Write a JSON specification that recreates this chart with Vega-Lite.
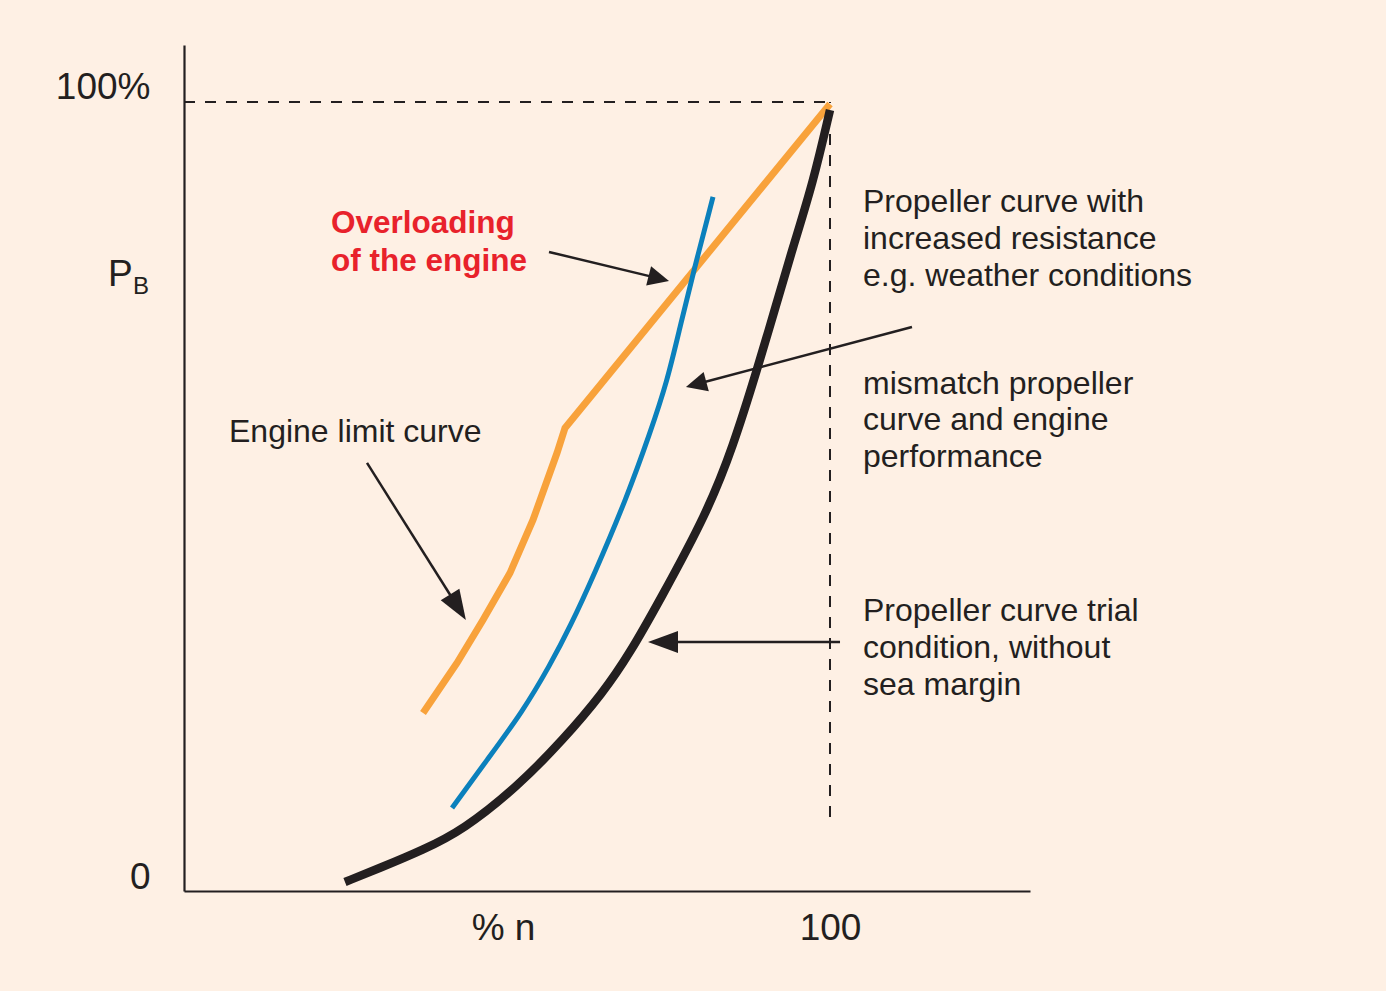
{
  "$schema": "https://vega.github.io/schema/vega-lite/v6.json",
  "width": 846,
  "height": 846,
  "autosize": {"type": "none"},
  "padding": {"left": 184, "top": 45, "right": 356, "bottom": 100},
  "background": "#FEF0E4",
  "config": {"view": {"stroke": null}, "font": "Liberation Sans"},
  "datasets": {
    "curves": [
      {"series": "limit", "x": 37.00, "y": 22.56},
      {"series": "limit", "x": 42.26, "y": 28.90},
      {"series": "limit", "x": 46.28, "y": 34.35},
      {"series": "limit", "x": 50.46, "y": 40.30},
      {"series": "limit", "x": 54.02, "y": 47.02},
      {"series": "limit", "x": 57.74, "y": 55.51},
      {"series": "limit", "x": 58.98, "y": 58.68},
      {"series": "limit", "x": 100.0, "y": 99.75},
      {"series": "heavy", "x": 41.49, "y": 10.52},
      {"series": "heavy", "x": 46.90, "y": 16.60},
      {"series": "heavy", "x": 52.48, "y": 22.81},
      {"series": "heavy", "x": 56.66, "y": 28.64},
      {"series": "heavy", "x": 59.75, "y": 33.46},
      {"series": "heavy", "x": 63.47, "y": 40.05},
      {"series": "heavy", "x": 68.58, "y": 49.94},
      {"series": "heavy", "x": 72.14, "y": 58.05},
      {"series": "heavy", "x": 74.77, "y": 64.51},
      {"series": "heavy", "x": 76.78, "y": 71.48},
      {"series": "heavy", "x": 78.79, "y": 78.21},
      {"series": "heavy", "x": 81.89, "y": 87.96},
      {"series": "trial", "x": 24.92, "y": 1.14},
      {"series": "trial", "x": 30.34, "y": 2.92},
      {"series": "trial", "x": 37.00, "y": 5.20},
      {"series": "trial", "x": 43.19, "y": 7.73},
      {"series": "trial", "x": 51.55, "y": 13.18},
      {"series": "trial", "x": 58.67, "y": 19.14},
      {"series": "trial", "x": 64.86, "y": 25.10},
      {"series": "trial", "x": 69.04, "y": 30.16},
      {"series": "trial", "x": 73.68, "y": 36.88},
      {"series": "trial", "x": 80.96, "y": 47.91},
      {"series": "trial", "x": 84.98, "y": 56.27},
      {"series": "trial", "x": 88.70, "y": 66.03},
      {"series": "trial", "x": 91.30, "y": 73.26},
      {"series": "trial", "x": 94.27, "y": 81.62},
      {"series": "trial", "x": 97.37, "y": 89.73},
      {"series": "trial", "x": 100.0, "y": 98.99}
    ],
    "dashes": [
      {"x": 0, "x2": 100, "y": 100, "y2": 100},
      {"x": 100, "x2": 100, "y": 9.38, "y2": 100}
    ],
    "shafts": [
      {"x": 56.50, "y": 80.99, "x2": 73.50, "y2": 77.64},
      {"x": 28.33, "y": 54.25, "x2": 42.41, "y2": 35.96},
      {"x": 112.69, "y": 71.48, "x2": 79.27, "y2": 64.22},
      {"x": 101.55, "y": 31.56, "x2": 74.15, "y2": 31.56}
    ],
    "headsLarge": [
      {"x": 42.41, "y": 35.96, "angle": 148.2},
      {"x": 74.15, "y": 31.56, "angle": 270}
    ],
    "headsSmall": [
      {"x": 73.50, "y": 77.64, "angle": 104.2},
      {"x": 79.27, "y": 64.22, "angle": 254.9}
    ],
    "notes": [
      {"x": 105.11, "y": 86.00, "text": "Propeller curve with"},
      {"x": 105.11, "y": 81.31, "text": "increased resistance"},
      {"x": 105.11, "y": 76.62, "text": "e.g. weather conditions"},
      {"x": 105.11, "y": 63.05, "text": "mismatch propeller"},
      {"x": 105.11, "y": 58.37, "text": "curve and engine"},
      {"x": 105.11, "y": 53.68, "text": "performance"},
      {"x": 105.11, "y": 34.16, "text": "Propeller curve trial"},
      {"x": 105.11, "y": 29.47, "text": "condition, without"},
      {"x": 105.11, "y": 24.78, "text": "sea margin"},
      {"x": 6.97, "y": 56.91, "text": "Engine limit curve"}
    ],
    "redNotes": [
      {"x": 22.76, "y": 83.33, "text": "Overloading"},
      {"x": 22.76, "y": 78.52, "text": "of the engine"}
    ],
    "pMain": [{"x": -11.76, "y": 76.68, "text": "P"}],
    "pSub": [{"x": -7.89, "y": 75.67, "text": "B"}]
  },
  "encoding": {
    "x": {
      "field": "x",
      "type": "quantitative",
      "scale": {"domain": [0, 130.96], "nice": false, "zero": false},
      "axis": {
        "values": [100],
        "ticks": false,
        "tickSize": 0,
        "grid": false,
        "domainColor": "#231F20",
        "domainWidth": 2.2,
        "labelFont": "Liberation Sans",
        "labelFontSize": 37,
        "labelColor": "#231F20",
        "labelBaseline": "alphabetic",
        "labelPadding": 48,
        "title": "% n",
        "titleFont": "Liberation Sans",
        "titleFontSize": 37,
        "titleFontWeight": "normal",
        "titleColor": "#231F20",
        "titleX": 319,
        "titleY": 48,
        "titleBaseline": "alphabetic",
        "titleAlign": "center"
      }
    },
    "y": {
      "field": "y",
      "type": "quantitative",
      "scale": {"domain": [0, 107.22], "nice": false, "zero": false},
      "axis": {
        "values": [0, 100],
        "labelExpr": "datum.value == 100 ? '100%' : '0'",
        "ticks": false,
        "tickSize": 0,
        "grid": false,
        "domainColor": "#231F20",
        "domainWidth": 2.2,
        "labelFont": "Liberation Sans",
        "labelFontSize": 37,
        "labelColor": "#231F20",
        "labelBaseline": "alphabetic",
        "labelOffset": -3,
        "labelPadding": 34,
        "title": null
      }
    }
  },
  "layer": [
    {
      "data": {"name": "curves"},
      "transform": [{"filter": "datum.series == 'limit'"}],
      "mark": {"type": "line", "color": "#F8A23B", "strokeWidth": 7, "interpolate": "linear", "strokeJoin": "miter"}
    },
    {
      "data": {"name": "curves"},
      "transform": [{"filter": "datum.series == 'heavy'"}],
      "mark": {"type": "line", "color": "#0B80BC", "strokeWidth": 5, "interpolate": "basis"}
    },
    {
      "data": {"name": "curves"},
      "transform": [{"filter": "datum.series == 'trial'"}],
      "mark": {"type": "line", "color": "#231F20", "strokeWidth": 8.5, "interpolate": "basis"}
    },
    {
      "data": {"name": "dashes"},
      "mark": {"type": "rule", "color": "#231F20", "strokeWidth": 2, "strokeDash": [11, 10]},
      "encoding": {"x2": {"field": "x2"}, "y2": {"field": "y2"}}
    },
    {
      "data": {"name": "shafts"},
      "mark": {"type": "rule", "color": "#231F20", "strokeWidth": 2.5},
      "encoding": {"x2": {"field": "x2"}, "y2": {"field": "y2"}}
    },
    {
      "data": {"name": "headsLarge"},
      "mark": {"type": "point", "shape": "M0,-1L0.73,1L-0.73,1Z", "size": 900, "filled": true, "opacity": 1, "color": "#231F20", "strokeWidth": 0},
      "encoding": {"angle": {"field": "angle", "type": "quantitative", "scale": null}}
    },
    {
      "data": {"name": "headsSmall"},
      "mark": {"type": "point", "shape": "M0,-1L0.95,1L-0.95,1Z", "size": 441, "filled": true, "opacity": 1, "color": "#231F20", "strokeWidth": 0},
      "encoding": {"angle": {"field": "angle", "type": "quantitative", "scale": null}}
    },
    {
      "data": {"name": "notes"},
      "mark": {"type": "text", "align": "left", "baseline": "alphabetic", "font": "Liberation Sans", "fontSize": 32, "color": "#231F20"},
      "encoding": {"text": {"field": "text"}}
    },
    {
      "data": {"name": "redNotes"},
      "mark": {"type": "text", "align": "left", "baseline": "alphabetic", "font": "Liberation Sans", "fontSize": 31.5, "fontWeight": "bold", "color": "#E8222B"},
      "encoding": {"text": {"field": "text"}}
    },
    {
      "data": {"name": "pMain"},
      "mark": {"type": "text", "align": "left", "baseline": "alphabetic", "font": "Liberation Sans", "fontSize": 37, "color": "#231F20"},
      "encoding": {"text": {"field": "text"}}
    },
    {
      "data": {"name": "pSub"},
      "mark": {"type": "text", "align": "left", "baseline": "alphabetic", "font": "Liberation Sans", "fontSize": 24, "color": "#231F20"},
      "encoding": {"text": {"field": "text"}}
    }
  ]
}
